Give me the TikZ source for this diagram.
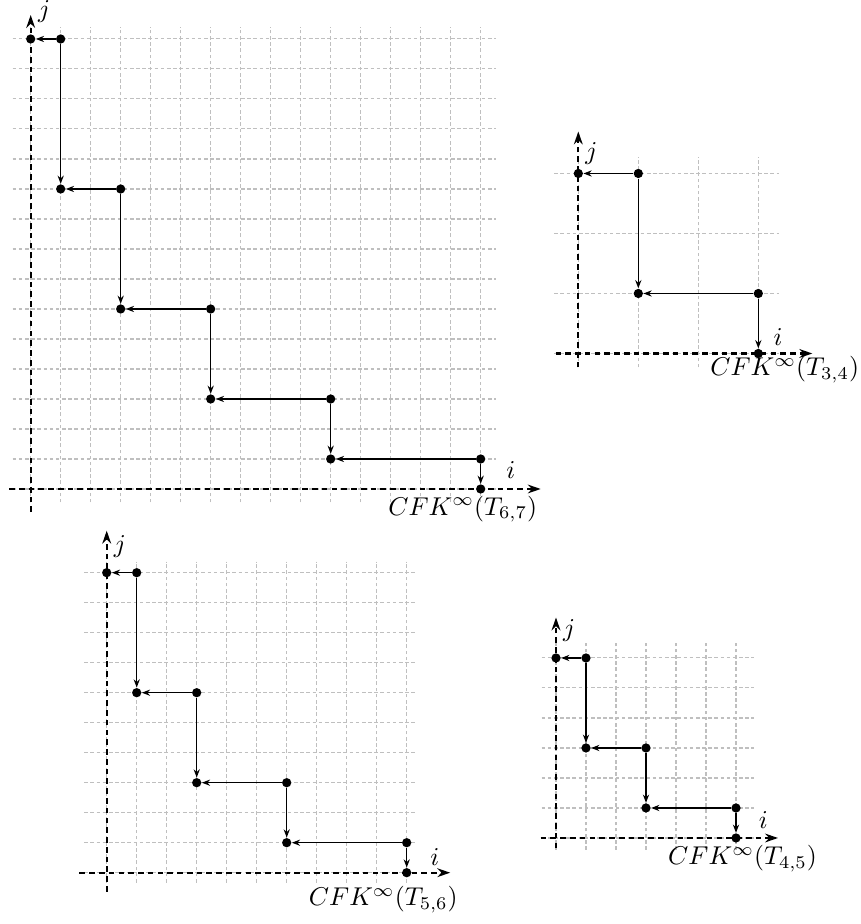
\documentclass[tikz,border=0pt]{standalone}
\usetikzlibrary{arrows.meta}
\begin{document}
\begin{tikzpicture}[x=0.41cm, y=0.41cm,
    gridline/.style={black!25, line width=0.4pt, step=1, dash pattern=on 1.4pt off 1pt},
    axis/.style={line width=0.8pt, dash pattern=on 2.2pt off 1.6pt, -{Stealth[length=5pt,width=3.4pt,inset=1.6pt]}},
    dot/.style={circle, fill, inner sep=0pt, minimum size=3.6pt},
    arr/.style={line width=0.6pt, -{Stealth[length=3.2pt,width=2.4pt]}}]
\useasboundingbox (0,0) rectangle (28.667,30.8);

\begin{scope}[shift={(1.023,14.5)}]
  \draw[gridline] (-0.6,-0.45) grid (15.5,15.4);
  \draw[axis] (-0.72,0) -- (17,0);
  \draw[axis] (0,-0.77) -- (0,15.8);
  \foreach \x/\y [count=\n from 0] in {0/15,1/15,1/10,3/10,3/6,6/6,6/3,10/3,10/1,15/1,15/0}
    \node[dot] (s\n) at (\x,\y) {};
  \foreach \n [evaluate=\n as \l using int(\n-1), evaluate=\n as \r using int(\n+1)] in {1,3,...,9} {
    \draw[arr] (s\n) -- (s\l);
    \draw[arr] (s\n) -- (s\r);
  }
  \node (js) at (0.45,15.9) {$j$};
  \node (is) at (16,0.63) {$i$};
  \node (cfks) at (14.4,-0.67) {$CFK^\infty(T_{6,7})$};
\end{scope}

\begin{scope}[shift={(19.277,19.017)}, scale=2]
  \draw[gridline] (-0.4,-0.23) grid (3.35,3.28);
  \draw[axis] (-0.38,0) -- (3.9,0);
  \draw[axis] (0,-0.23) -- (0,3.7);
  \foreach \x/\y [count=\n from 0] in {0/3,1/3,1/1,3/1,3/0}
    \node[dot] (t\n) at (\x,\y) {};
  \foreach \n [evaluate=\n as \l using int(\n-1), evaluate=\n as \r using int(\n+1)] in {1,3} {
    \draw[arr] (t\n) -- (t\l);
    \draw[arr] (t\n) -- (t\r);
  }
  \node (jt) at (0.22,3.34) {$j$};
  \node (it) at (3.33,0.28) {$i$};
  \node (cfkt) at (3.44,-0.275) {$CFK^\infty(T_{3,4})$};
\end{scope}

\begin{scope}[shift={(3.557,1.71)}]
  \draw[gridline] (-0.75,-0.33) grid (10.35,10.37);
  \draw[axis] (-0.91,0) -- (11.45,0);
  \draw[axis] (0,-0.63) -- (0,11.4);
  \foreach \x/\y [count=\n from 0] in {0/10,1/10,1/6,3/6,3/3,6/3,6/1,10/1,10/0}
    \node[dot] (f\n) at (\x,\y) {};
  \foreach \n [evaluate=\n as \l using int(\n-1), evaluate=\n as \r using int(\n+1)] in {1,3,...,7} {
    \draw[arr] (f\n) -- (f\l);
    \draw[arr] (f\n) -- (f\r);
  }
  \node (jf) at (0.44,10.86) {$j$};
  \node (if) at (10.94,0.53) {$i$};
  \node (cfkf) at (9.22,-0.91) {$CFK^\infty(T_{5,6})$};
\end{scope}

\begin{scope}[shift={(18.533,2.867)}]
  \draw[gridline] (-0.48,-0.4) grid (6.6,6.55);
  \draw[axis] (-0.51,0) -- (7.4,0);
  \draw[axis] (0,-0.34) -- (0,7.35);
  \foreach \x/\y [count=\n from 0] in {0/6,1/6,1/3,3/3,3/1,6/1,6/0}
    \node[dot] (q\n) at (\x,\y) {};
  \foreach \n [evaluate=\n as \l using int(\n-1), evaluate=\n as \r using int(\n+1)] in {1,3,5} {
    \draw[arr] (q\n) -- (q\l);
    \draw[arr] (q\n) -- (q\r);
  }
  \node (jq) at (0.44,6.93) {$j$};
  \node (iq) at (6.91,0.6) {$i$};
  \node (cfkq) at (6.22,-0.7) {$CFK^\infty(T_{4,5})$};
\end{scope}
\end{tikzpicture}
\end{document}
